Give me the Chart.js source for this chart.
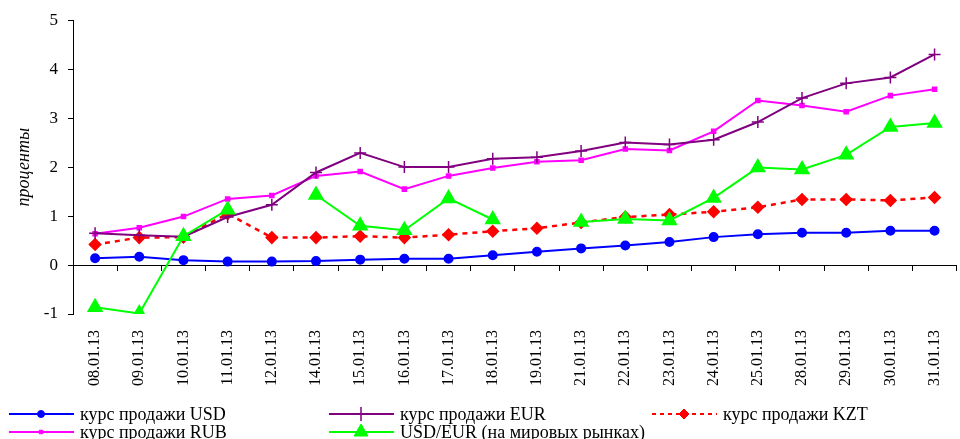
<!DOCTYPE html>
<html>
<head>
<meta charset="utf-8">
<script src="https://cdn.jsdelivr.net/npm/chart.js@4.4.0/dist/chart.umd.min.js"></script>
<style>
html, body { margin: 0; padding: 0; background: #fff; overflow: hidden; }
#wrap { width: 970px; height: 439px; }
</style>
</head>
<body>
<div id="wrap"><canvas id="rateChart" width="970" height="439"></canvas></div>
<script>
// Exchange rate changes, % (January 2013)
const dates = ['08.01.13', '09.01.13', '10.01.13', '11.01.13', '12.01.13', '14.01.13', '15.01.13',
    '16.01.13', '17.01.13', '18.01.13', '19.01.13', '21.01.13', '22.01.13', '23.01.13', '24.01.13',
    '25.01.13', '28.01.13', '29.01.13', '30.01.13', '31.01.13'];
const usdSell = [0.14, 0.17, 0.10, 0.07, 0.07, 0.08, 0.11, 0.13, 0.13, 0.20, 0.27, 0.34, 0.40, 0.47, 0.57, 0.63, 0.66, 0.66, 0.70, 0.70];
const eurSell = [0.65, 0.61, 0.58, 0.98, 1.23, 1.89, 2.29, 2.00, 2.00, 2.17, 2.20, 2.33, 2.50, 2.46, 2.56, 2.92, 3.41, 3.71, 3.83, 4.30];
const kztSell = [0.42, 0.56, 0.57, 1.05, 0.56, 0.56, 0.59, 0.56, 0.62, 0.69, 0.75, 0.87, 0.98, 1.03, 1.09, 1.18, 1.34, 1.34, 1.32, 1.38];
const rubSell = [0.64, 0.76, 0.99, 1.35, 1.42, 1.82, 1.91, 1.55, 1.82, 1.98, 2.11, 2.14, 2.37, 2.34, 2.73, 3.36, 3.26, 3.13, 3.46, 3.59];
const usdEurWorld = [-0.86, -0.99, 0.59, 1.13, null, 1.43, 0.80, 0.71, 1.36, 0.93, null, 0.88, 0.94, 0.91, 1.37, 1.99, 1.95, 2.25, 2.82, 2.90];
const yTicks = [-1, 0, 1, 2, 3, 4, 5];

const serif = "'Liberation Serif', 'Times New Roman', serif";

// legend drawn by hand: two rows, three columns like the original
const legendSlots = [
    { x: 9, y: 414 }, { x: 329, y: 414 }, { x: 652, y: 414 },
    { x: 9, y: 432 }, { x: 329, y: 432 }
];

const gridLegend = {
    id: 'gridLegend',
    afterDraw(chart) {
        const ctx = chart.ctx;
        chart.data.datasets.forEach((ds) => {
            const slot = legendSlots[ds.legendIndex];
            ctx.save();
            ctx.strokeStyle = ds.borderColor;
            ctx.lineWidth = 2;
            ctx.setLineDash(ds.legendDash || []);
            ctx.beginPath();
            ctx.moveTo(slot.x, slot.y);
            ctx.lineTo(slot.x + 65, slot.y);
            ctx.stroke();
            ctx.setLineDash([]);
            ctx.fillStyle = ds.pointBackgroundColor;
            ctx.strokeStyle = ds.pointBorderColor;
            ctx.lineWidth = ds.pointBorderWidth || 1;
            Chart.helpers.drawPoint(ctx, {
                pointStyle: ds.pointStyle,
                radius: ds.legendRadius,
                rotation: 0,
                borderWidth: ds.pointBorderWidth || 1
            }, slot.x + 32, slot.y);
            ctx.fillStyle = '#000';
            ctx.font = "18px " + serif;
            ctx.textBaseline = 'middle';
            ctx.fillText(ds.label, slot.x + 71, slot.y + 1);
            ctx.restore();
        });
    }
};

const ctx = document.getElementById('rateChart').getContext('2d');
new Chart(ctx, {
    type: 'line',
    data: {
        labels: dates,
        datasets: [
            {
                label: 'курс продажи USD', data: usdSell, legendIndex: 0, order: 1,
                borderColor: '#0000FF', borderWidth: 2,
                pointStyle: 'circle', pointRadius: 4, legendRadius: 3.5,
                pointBackgroundColor: '#0000FF', pointBorderColor: '#0000FF'
            },
            {
                label: 'курс продажи EUR', data: eurSell, legendIndex: 1, order: 2,
                borderColor: '#800080', borderWidth: 2,
                pointStyle: 'cross', pointRadius: 6, legendRadius: 7, pointBorderWidth: 1.5,
                pointBackgroundColor: '#800080', pointBorderColor: '#800080'
            },
            {
                label: 'курс продажи KZT', data: kztSell, legendIndex: 2, order: 3,
                borderColor: '#FF0000', borderWidth: 2.5, borderDash: [5, 5], legendDash: [4, 4],
                pointStyle: 'rectRot', pointRadius: 5, legendRadius: 5,
                pointBackgroundColor: '#FF0000', pointBorderColor: '#FF0000'
            },
            {
                label: 'курс продажи RUB', data: rubSell, legendIndex: 3, order: 4,
                borderColor: '#FF00FF', borderWidth: 2,
                pointStyle: 'rect', pointRadius: 2.5, legendRadius: 2.5,
                pointBackgroundColor: '#FF00FF', pointBorderColor: '#FF00FF'
            },
            {
                label: 'USD/EUR (на мировых рынках)', data: usdEurWorld, legendIndex: 4, order: 0,
                borderColor: '#00FF00', borderWidth: 2,
                pointStyle: 'triangle', pointRadius: 7.5, legendRadius: 8,
                pointBackgroundColor: '#00FF00', pointBorderColor: '#00FF00'
            }
        ]
    },
    options: {
        responsive: false,
        animation: false,
        devicePixelRatio: 1,
        layout: { padding: { top: 18, bottom: 40, left: 0, right: 0 } },
        plugins: {
            legend: { display: false },
            tooltip: { enabled: false }
        },
        elements: { line: { tension: 0 } },
        scales: {
            x: {
                type: 'category',
                offset: true,
                grid: { display: false, drawTicks: false },
                border: { display: false },
                ticks: {
                    minRotation: 90, maxRotation: 90, autoSkip: false, padding: 16,
                    color: '#000', font: { family: serif, size: 16 }
                },
                afterFit: (scale) => { scale.height = 85; }
            },
            xZero: {
                type: 'category',
                axis: 'x',
                labels: dates,
                position: { y: 0 },
                offset: true,
                grid: { display: true, drawOnChartArea: false, drawTicks: true, tickLength: 5, offset: true, color: '#000' },
                border: { display: true, color: '#000', width: 1 },
                ticks: { display: false }
            },
            y: {
                min: -1, max: 5,
                afterBuildTicks: (scale) => { scale.ticks = yTicks.map(v => ({ value: v })); },
                grid: { drawOnChartArea: false, drawTicks: true, tickLength: 5, color: '#000' },
                border: { display: true, color: '#000', width: 1 },
                ticks: { padding: 10, color: '#000', font: { family: serif, size: 17 } },
                title: {
                    display: true, text: 'проценты', color: '#000',
                    font: { family: serif, size: 18, style: 'italic' },
                    padding: { top: 13, bottom: 0 }
                },
                afterFit: (scale) => { scale.width = 73; }
            }
        }
    },
    plugins: [gridLegend]
});
</script>
</body>
</html>
